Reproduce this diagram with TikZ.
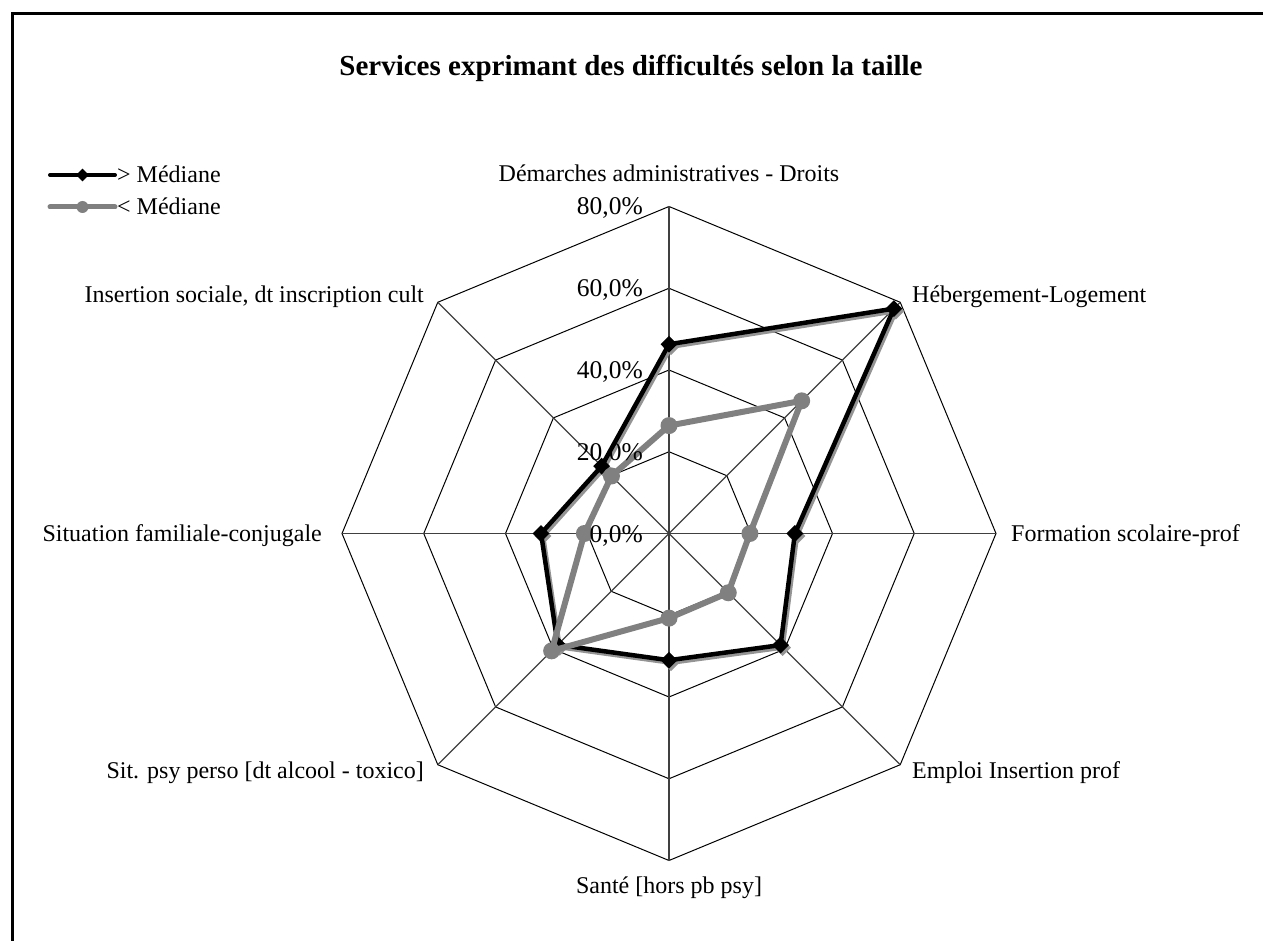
\documentclass[tikz,border=0pt]{standalone}
\usepackage{fontspec}
\setmainfont{Liberation Serif}
\usetikzlibrary{calc,shapes.geometric}

\begin{document}
\begin{tikzpicture}[
    x=1pt, y=-1pt,
    frame/.style={draw=black, line width=3pt},
    grid/.style={black, line width=1pt},
    spoke/.style={black!75, line width=1.1pt},
    upper/.style={black, line width=4.5pt, line join=round},
    lower/.style={black!50, line width=6pt, line join=round},
    shade/.style={black!42, line width=4.5pt, line join=round},
    diam/.style={diamond, fill=black, inner sep=0pt, minimum size=17pt},
    dot/.style={circle, fill=black!50, inner sep=0pt, minimum size=17pt},
    titre/.style={font=\fontsize{29}{34}\selectfont\bfseries, inner sep=0pt},
    axe/.style={font=\fontsize{24}{28}\selectfont, inner sep=0pt},
    pct/.style={font=\fontsize{25.5}{30}\selectfont, inner sep=0pt, anchor=base east}
]
    \useasboundingbox (0,0) rectangle (1263,941);
    \clip (0,0) rectangle (1263,941);

    % Cadre et titre
    \draw[frame] (12.5,14) rectangle (1300,990);
    \node[titre] (titre) at (631,68) {Services exprimant des difficultés selon la taille};

    % Grille
    \coordinate (c) at (669,533.5);
    \foreach \k in {0,...,7}
        \coordinate (v\k) at ($(c)+(-90+45*\k:327)$);
    \foreach \r in {1,...,4}
        \draw[grid] ($(c)+(-90:\r*81.75)$)
            \foreach \k in {1,...,7} { -- ($(c)+(-90+45*\k:\r*81.75)$) } -- cycle;
    \foreach \k in {0,...,7}
        \draw[spoke] (c) -- (v\k);

    % Series
    \foreach \v [count=\k from 0] in {46.3,77.8,30.8,38.6,31,38.5,31.3,23.3}
        \coordinate (h\k) at ($(c)+(-90+45*\k:\v*4.0875)$);
    \foreach \v [count=\k from 0] in {26.4,45.9,19.8,20.5,20.7,40.6,20.7,19.9}
        \coordinate (b\k) at ($(c)+(-90+45*\k:\v*4.0875)$);

    % > Mediane (ombre puis trait)
    \begin{scope}[transform canvas={xshift=2pt, yshift=-2.5pt}]
        \draw[shade] (h0) -- (h1) -- (h2) -- (h3) -- (h4) -- (h5) -- (h6) -- (h7) -- cycle;
        \foreach \k in {0,...,7}
            \node[diam, fill=black!42] (sh\k) at (h\k) {};
    \end{scope}
    \draw[upper] (h0) -- (h1) -- (h2) -- (h3) -- (h4) -- (h5) -- (h6) -- (h7) -- cycle;
    \foreach \k in {0,...,7}
        \node[diam] (mh\k) at (h\k) {};

    % < Mediane
    \draw[lower] (b0) -- (b1) -- (b2) -- (b3) -- (b4) -- (b5) -- (b6) -- (b7) -- cycle;
    \foreach \k in {0,...,7}
        \node[dot] (mb\k) at (b\k) {};

    % Etiquettes des axes
    \node[axe, anchor=base] (l0) at (669,182) {Démarches administratives - Droits};
    \node[axe, anchor=base west] (l1) at (912,302) {Hébergement-Logement};
    \node[axe, anchor=base west] (l2) at (1011,541) {Formation scolaire-prof};
    \node[axe, anchor=base west] (l3) at (912,778) {Emploi Insertion prof};
    \node[axe, anchor=base] (l4) at (669,893) {Santé [hors pb psy]};
    \node[axe, anchor=base east] (l5) at (424,778) {Sit. psy perso [dt alcool - toxico]};
    \node[axe, anchor=base east] (l6) at (322,541) {Situation familiale-conjugale};
    \node[axe, anchor=base east] (l7) at (424,302) {Insertion sociale, dt inscription cult};

    % Graduations
    \foreach \p in {0,20,40,60,80}
        \node[pct] (p\p) at (643,{533.5-\p*4.0875+8.5}) {\p,0\%};

    % Legende
    \coordinate (la1) at (50,175);
    \coordinate (lb1) at (115,175);
    \coordinate (la2) at (50,207);
    \coordinate (lb2) at (115,207);
    \draw[upper, line width=4pt, line cap=round] (la1) -- (lb1);
    \node[diam, minimum size=13pt] (lm1) at ($(la1)!0.5!(lb1)$) {};
    \node[axe, anchor=base west] (lt1) at (117,183) {> Médiane};
    \draw[lower, line width=5pt, line cap=round] (la2) -- (lb2);
    \node[dot, minimum size=12pt] (lm2) at ($(la2)!0.5!(lb2)$) {};
    \node[axe, anchor=base west] (lt2) at (117,215) {< Médiane};
\end{tikzpicture}
\end{document}
